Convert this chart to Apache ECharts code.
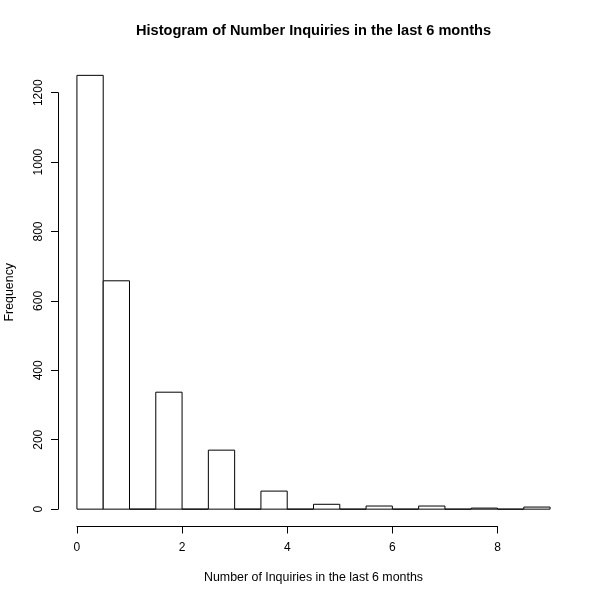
<!DOCTYPE html>
<html>
<head>
<meta charset="utf-8">
<script src="https://cdn.jsdelivr.net/npm/echarts@6/dist/echarts.min.js"></script>
<style>
  html, body { margin: 0; padding: 0; background: #fff; }
  #chart { width: 600px; height: 600px; }
</style>
</head>
<body>
<div id="chart"></div>
<script>
// histogram breaks (bin edges) and counts per bin
var breaks = [0, 0.5, 1, 1.5, 2, 2.5, 3, 3.5, 4, 4.5, 5, 5.5, 6, 6.5, 7, 7.5, 8, 8.5, 9];
var counts = [1250, 658, 0, 337, 0, 170, 0, 52, 0, 14, 0, 9, 0, 9, 0, 3, 0, 6];
var xTicks = [0, 2, 4, 6, 8];
var yTicks = [0, 200, 400, 600, 800, 1000, 1200];

var titleText = 'Histogram of Number Inquiries in the last 6 months';
var xLabel = 'Number of Inquiries in the last 6 months';
var yLabel = 'Frequency';

var font = '"Liberation Sans", Arial, sans-serif';

// plot region like R: ranges extended by 4%
var xMin = breaks[0], xMax = breaks[breaks.length - 1];
var yTop = Math.max.apply(null, counts);
var xPad = (xMax - xMin) * 0.04, yPad = yTop * 0.04;
var plot = { left: 58, right: 569, top: 58, bottom: 526.5 };
var plotW = plot.right - plot.left, plotH = plot.bottom - plot.top;

function px(v) { return plot.left + (v - (xMin - xPad)) / (xMax - xMin + 2 * xPad) * plotW; }
function py(v) { return plot.top + ((yTop + yPad) - v) / (yTop + 2 * yPad) * plotH; }

var axX0 = px(xTicks[0]), axX1 = px(xTicks[xTicks.length - 1]);
var axY0 = py(yTicks[0]), axY1 = py(yTicks[yTicks.length - 1]);

var rows = counts.map(function (c, i) {
    return [breaks[i], breaks[i + 1], c];
});

var chart = echarts.init(document.getElementById('chart'), null, { renderer: 'canvas' });

var option = {
    backgroundColor: '#fff',
    animation: false,
    textStyle: { fontFamily: font },
    grid: [
        { left: plot.left, top: plot.top, width: plotW, height: plotH },
        { left: axX0, top: axY1, width: axX1 - axX0, height: axY0 - axY1 }
    ],
    xAxis: [
        { type: 'value', gridIndex: 0, min: xMin - xPad, max: xMax + xPad, show: false },
        {
            type: 'value', gridIndex: 1, min: xTicks[0], max: xTicks[xTicks.length - 1],
            interval: 2, position: 'bottom', offset: plot.bottom - axY0,
            splitLine: { show: false },
            axisLine: { show: true, onZero: false, lineStyle: { color: '#000', width: 1 } },
            axisTick: { show: true, length: 7, lineStyle: { color: '#000', width: 1 } },
            axisLabel: { color: '#000', fontSize: 12, fontFamily: font, margin: 15,
                formatter: function (v) { return String(v); } }
        }
    ],
    yAxis: [
        { type: 'value', gridIndex: 0, min: -yPad, max: yTop + yPad, show: false },
        {
            type: 'value', gridIndex: 1, min: yTicks[0], max: yTicks[yTicks.length - 1],
            interval: 200, position: 'left', offset: axX0 - plot.left,
            splitLine: { show: false },
            axisLine: { show: true, onZero: false, lineStyle: { color: '#000', width: 1 } },
            axisTick: { show: true, length: 7, lineStyle: { color: '#000', width: 1 } },
            axisLabel: { color: '#000', fontSize: 12, fontFamily: font, rotate: 90, margin: 13,
                formatter: function (v) { return String(v); } }
        }
    ],
    graphic: [
        {
            type: 'text', x: (plot.left + plot.right) / 2, y: 31,
            style: { text: titleText, font: 'bold 14.6px ' + font, fill: '#000', align: 'center', verticalAlign: 'middle' }
        },
        {
            type: 'text', x: (plot.left + plot.right) / 2, y: 578,
            style: { text: xLabel, font: '12.4px ' + font, fill: '#000', align: 'center', verticalAlign: 'middle' }
        },
        {
            type: 'text', x: 10, y: (plot.top + plot.bottom) / 2, rotation: Math.PI / 2,
            style: { text: yLabel, font: '12.4px ' + font, fill: '#000', align: 'center', verticalAlign: 'middle' }
        }
    ],
    series: [{
        type: 'custom',
        xAxisIndex: 0,
        yAxisIndex: 0,
        clip: false,
        data: rows,
        renderItem: function (params, api) {
            var p0 = api.coord([api.value(0), api.value(2)]);
            var p1 = api.coord([api.value(1), 0]);
            return {
                type: 'rect',
                shape: { x: p0[0], y: p0[1], width: p1[0] - p0[0], height: p1[1] - p0[1] },
                style: { fill: '#fff', stroke: '#000', lineWidth: 1 }
            };
        }
    }]
};

chart.setOption(option);
</script>
</body>
</html>
